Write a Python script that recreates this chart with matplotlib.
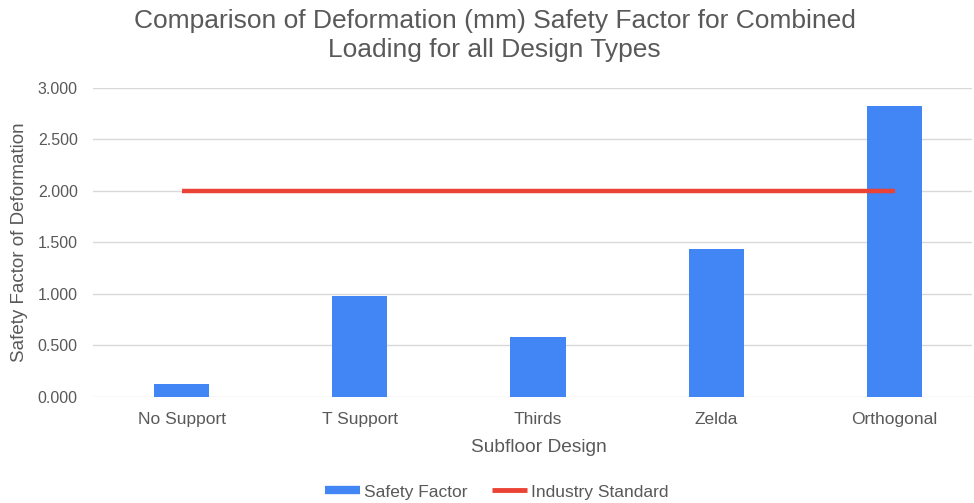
import matplotlib.pyplot as plt
import numpy as np
from matplotlib.lines import Line2D

plt.rcParams['font.family'] = ['Liberation Sans', 'DejaVu Sans']

designs = ['No Support', 'T Support', 'Thirds', 'Zelda', 'Orthogonal']
safety_factor = [0.126, 0.980, 0.580, 1.434, 2.830]
industry_standard = [2.0, 2.0, 2.0, 2.0, 2.0]

blue = '#4285F4'
red = '#EA4335'
grey = '#595959'

fig = plt.figure(figsize=(9.74, 5.03), dpi=100)
ax = fig.add_axes([0.0955, 0.211, 0.9025, 0.614])

x = np.arange(len(designs))
ax.bar(x, safety_factor, width=0.31, color=blue, zorder=3)
ax.plot(x, industry_standard, color=red, linewidth=3.2, zorder=4,
        solid_capstyle='butt')

ax.set_xlim(-0.497, 4.435)
ax.set_ylim(0, 3.0)
ax.set_yticks(np.arange(0, 3.01, 0.5))
ax.set_yticklabels(['%.3f' % v for v in np.arange(0, 3.01, 0.5)])
ax.set_xticks(x)
ax.set_xticklabels(designs)
ax.tick_params(axis='both', length=0, labelcolor=grey)
ax.tick_params(axis='x', pad=11, labelsize=12.5)
ax.tick_params(axis='y', pad=11, labelsize=11.5)
ax.yaxis.grid(True, color='#d9d9d9', linewidth=1, zorder=0)
for s in ax.spines.values():
    s.set_visible(False)

ax.set_xlabel('Subfloor Design', fontsize=13.8, color=grey)
ax.xaxis.set_label_coords(0.507, -0.135)
ax.set_ylabel('Safety Factor of Deformation', fontsize=13.5, color=grey, labelpad=7)

fig.text(0.508, 0.930, 'Comparison of Deformation (mm) Safety Factor for Combined\nLoading for all Design Types',
         ha='center', va='center', fontsize=19, color=grey, linespacing=1.25)

handles = [Line2D([], [], color=blue, linewidth=6, solid_capstyle='butt'),
           Line2D([], [], color=red, linewidth=3.5, solid_capstyle='butt')]
fig.legend(handles, ['Safety Factor', 'Industry Standard'], loc='center',
           bbox_to_anchor=(0.51, 0.022), ncol=2, frameon=False, fontsize=12.5,
           labelcolor=grey, handlelength=2.0, handletextpad=0.25, columnspacing=1.4)

fig.savefig('out.png', dpi=100, facecolor='white')
